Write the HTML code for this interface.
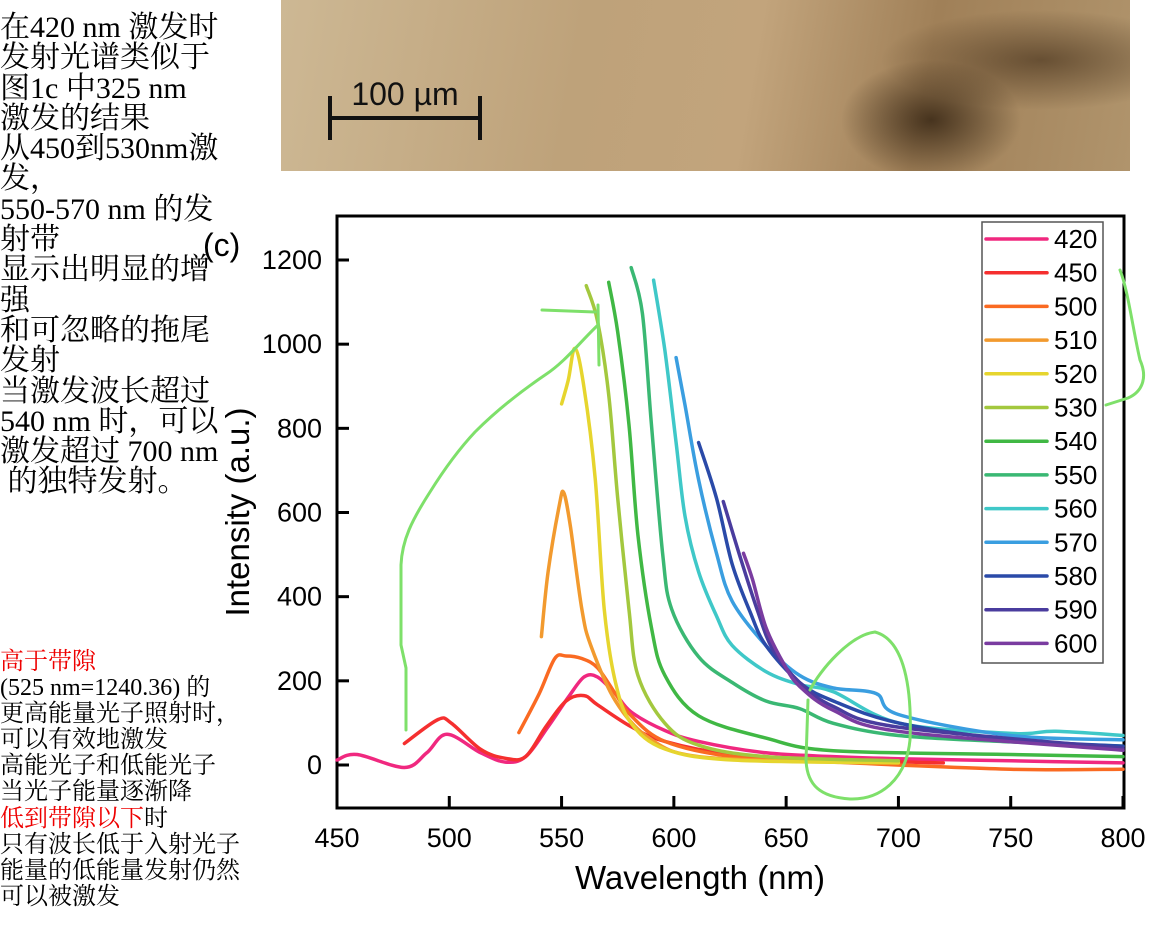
<!DOCTYPE html>
<html><head><meta charset="utf-8">
<style>
body{margin:0;width:1164px;height:929px;background:#fff;overflow:hidden;position:relative;font-family:"Liberation Serif","Noto Serif CJK SC",serif;}
.txt{position:absolute;left:0;white-space:pre;color:#000;}
#t1{top:13px;font-size:30px;line-height:30.3px;}
#t2{top:649px;font-size:24px;line-height:26.1px;}
.red{color:#e00;}
#photo{position:absolute;left:281px;top:0;width:849px;height:171px;background:radial-gradient(ellipse 90px 60px at 650px 120px,rgba(40,25,10,0.75),rgba(40,25,10,0) 100%),radial-gradient(ellipse 160px 50px at 760px 60px,rgba(60,40,20,0.6),rgba(60,40,20,0) 100%),linear-gradient(100deg,#cdb894 0%,#bea27a 35%,#c2a47c 55%,#a08058 75%,#b0946c 100%);}
svg{position:absolute;left:0;top:0;}
</style></head><body>
<div id="t1" class="txt">在420 nm 激发时
发射光谱类似于
图1c 中325 nm
激发的结果
从450到530nm激
发，
550-570 nm 的发
射带
显示出明显的增
强
和可忽略的拖尾
发射
当激发波长超过
540 nm 时，可以
激发超过 700 nm
 的独特发射。</div>
<div id="t2" class="txt"><span class="red">高于带隙</span>
(525 nm=1240.36) 的
更高能量光子照射时，
可以有效地激发
高能光子和低能光子
当光子能量逐渐降
<span class="red">低到带隙以下</span>时
只有波长低于入射光子
能量的低能量发射仍然
可以被激发</div>
<div id="photo"></div>
<svg id="chart" width="1164" height="929"></svg>
<script>
const wavelengths = {
 "420":[450,459,480,490,499,514,525,534,544,553,560,566,574,581,596,611,641,671,700,750,800],
 "450":[480,495,501,514,525,534,543,552,560,566,581,596,626,671,720],
 "500":[531,540,547,552,559,566,574,581,596,626,671,750,800],
 "510":[541,544,549,551,554,559,563,574,589,611,671],
 "520":[550,553,556,560,565,569,574,581,596,626,700],
 "530":[561,566,571,575,580,584,596,611,641,700],
 "540":[571,575,580,584,590,596,611,641,671,750,800],
 "550":[581,586,590,595,599,611,626,641,656,671,700,750,800],
 "560":[591,596,601,605,611,619,626,641,656,671,700,750,770,800],
 "570":[601,605,611,619,626,641,656,671,690,700,750,800],
 "580":[611,619,626,634,641,656,671,700,750,800],
 "590":[622,629,637,644,656,671,700,800],
 "600":[631,635,641,649,656,671,700,800]
};
const intensities = {
 "420":[12,25,-6,29,73,29,7,20,91,161,209,209,169,126,82,56,29,20,15,10,5],
 "450":[51,108,99,37,16,20,91,152,165,143,91,56,25,12,5],
 "500":[77,169,253,259,253,231,169,117,56,20,7,-10,-10],
 "510":[305,459,617,647,564,371,284,152,64,20,7],
 "520":[858,915,990,897,678,371,196,99,38,12,5],
 "530":[1139,1055,880,634,371,213,99,47,20,10],
 "540":[1147,1029,810,547,327,213,117,64,34,25,20],
 "550":[1182,1073,810,503,371,257,196,152,134,99,70,55,45],
 "560":[1152,985,766,590,459,354,284,222,191,174,100,75,80,70],
 "570":[968,854,678,503,389,284,213,183,170,120,70,60],
 "580":[766,634,477,363,284,196,152,100,60,45],
 "590":[626,503,371,275,196,139,90,40],
 "600":[503,441,327,240,187,130,80,35]
};
const seriesNames = ["420","450","500","510","520","530","540","550","560","570","580","590","600"];
const seriesColors = ["#f0287f","#f52f2f","#fa6a22","#f29a2e","#e6d52e","#a3c83e","#40b844","#3ab873","#3fc8c8","#3a9ee0","#2a4aa8","#4a3c9e","#7a3ca0"];
const xTicks = [450,500,550,600,650,700,750,800];
const yTicks = [0,200,400,600,800,1000,1200];

const NS="http://www.w3.org/2000/svg";
const svg=document.getElementById('chart');
const L=337,R=1124,T=216,B=808;
function xs(w){return L+(w-450)*(1123-L)/350;}
function ys(v){return 765-v*(765-260)/1200;}
function mk(tag,attrs,parent){const e=document.createElementNS(NS,tag);for(const k in attrs)e.setAttribute(k,attrs[k]);(parent||svg).appendChild(e);return e;}
function smooth(pts){
 let d='M'+pts[0][0].toFixed(1)+' '+pts[0][1].toFixed(1);
 for(let i=0;i<pts.length-1;i++){
  const p0=pts[Math.max(0,i-1)],p1=pts[i],p2=pts[i+1],p3=pts[Math.min(pts.length-1,i+2)];
  const c1=[p1[0]+(p2[0]-p0[0])/6,p1[1]+(p2[1]-p0[1])/6];
  const c2=[p2[0]-(p3[0]-p1[0])/6,p2[1]-(p3[1]-p1[1])/6];
  d+='C'+c1[0].toFixed(1)+' '+c1[1].toFixed(1)+' '+c2[0].toFixed(1)+' '+c2[1].toFixed(1)+' '+p2[0].toFixed(1)+' '+p2[1].toFixed(1);
 }
 return d;
}

const sb=mk('g',{});


mk('path',{d:'M330 118H480M330 96V140M480 96V140',stroke:'#111',"stroke-width":4,fill:'none'},sb);
const sbt=mk('text',{x:405,y:105,"font-family":'Liberation Sans,sans-serif',"font-size":32,"text-anchor":'middle',fill:'#111'},sb);
sbt.textContent='100 µm';

const fr=mk('rect',{x:L,y:T,width:R-L,height:B-T,fill:'none',stroke:'#000',"stroke-width":3});



xTicks.forEach(t=>{
 const x=xs(t);
 const l=mk('line',{x1:x,x2:x,y1:B,y2:B-12,stroke:'#000',"stroke-width":3});
 
 
 const tx=mk('text',{x:x,y:847,"font-family":'Liberation Sans,sans-serif',"font-size":27,"text-anchor":'middle'});
 
 
 tx.textContent=t;
});
yTicks.forEach(t=>{
 const y=ys(t);
 const l=mk('line',{x1:L,x2:L+12,y1:y,y2:y,stroke:'#000',"stroke-width":3});
 
 
 const tx=mk('text',{x:322,y:y+9,"font-family":'Liberation Sans,sans-serif',"font-size":27,"text-anchor":'end'});
 
 
 tx.textContent=t;
});
const xt=mk('text',{x:700,y:889,"font-family":'Liberation Sans,sans-serif',"font-size":33,"text-anchor":'middle'});


xt.textContent='Wavelength (nm)';
const yt=mk('text',{x:0,y:0,"font-family":'Liberation Sans,sans-serif',"font-size":33,"text-anchor":'middle',transform:'translate(249,512) rotate(-90)'});


yt.textContent='Intensity (a.u.)';
const pl=mk('text',{x:203,y:256,"font-family":'Liberation Sans,sans-serif',"font-size":32});


pl.textContent='(c)';

seriesNames.forEach((n,i)=>{
 const pts=wavelengths[n].map((w,j)=>[xs(w),ys(intensities[n][j])]);
 const p=mk('path',{d:smooth(pts),fill:'none',stroke:seriesColors[i],"stroke-width":3.5,"stroke-linejoin":'round',"stroke-linecap":'round'});
 
 
});

const lg=mk('g',{});


mk('rect',{x:982,y:222,width:121,height:441,fill:'#fff',stroke:'#555',"stroke-width":1.5},lg);
seriesNames.forEach((n,i)=>{
 const y=239+i*33.7;
 const e=mk('g',{},lg);
 
 
 mk('line',{x1:986,x2:1047,y1:y,y2:y,stroke:seriesColors[i],"stroke-width":3.5,"stroke-linecap":'round'},e);
 const t=mk('text',{x:1054,y:y+9,"font-family":'Liberation Sans,sans-serif',"font-size":26},e);
 t.textContent=n;
});

const an=mk('g',{fill:'none',stroke:'#7ee06a',"stroke-width":3,"stroke-linecap":'round',"stroke-linejoin":'round'});


mk('path',{d:'M406 730L406 668L401 645L401 565C402 540 412 520 430 492C445 468 460 448 475 432C495 412 520 392 545 375C565 362 580 342 598 325'},an);
mk('path',{d:'M542 310L595 312M598 305L599 365'},an);
mk('path',{d:'M810 690C820 670 850 635 875 632C905 640 912 690 910 740C906 780 880 800 850 799C820 797 807 785 806 760L808 700'},an);
mk('path',{d:'M1120 270C1128 290 1133 330 1140 360C1148 378 1142 392 1128 398L1106 405'},an);
</script>
</body></html>
